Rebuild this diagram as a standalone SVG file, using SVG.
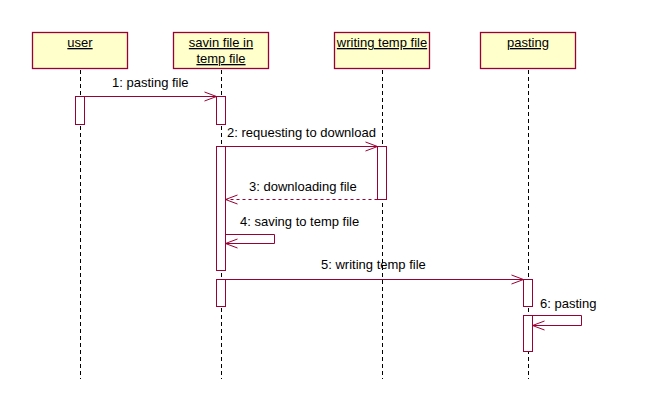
<svg xmlns="http://www.w3.org/2000/svg" width="671" height="420" viewBox="0 0 671 420">
<style>
text{font-family:"Liberation Sans",Arial,sans-serif;font-size:13px;fill:#000}
rect.box{fill:#FFFFCC;stroke:#990033;stroke-width:1.3}
.obj text{text-anchor:middle;text-decoration:underline}
.life{stroke:#000;stroke-width:1;stroke-dasharray:4,3;fill:none}
rect.act{fill:#fff;stroke:#990033;stroke-width:1}
.msg{stroke:#990033;stroke-width:1;fill:none}
.ret{stroke-dasharray:3,3}
</style>
<defs>
<marker id="open" viewBox="-13 -6 14 12" markerWidth="14" markerHeight="12" refX="0" refY="0" orient="auto" markerUnits="userSpaceOnUse">
<path d="M-12,-4.5 L0,0 L-12,4.5" fill="none" stroke="#990033" stroke-width="1" stroke-dasharray="none"/>
</marker>
</defs>
<rect width="671" height="420" fill="#fff"/>
<g id="user" class="obj">
<rect class="box" x="32.5" y="32.5" width="95" height="36"/>
<text x="80" y="47">user</text>
<line class="life" x1="80.5" y1="70" x2="80.5" y2="379"/>
<rect class="act" x="75.5" y="96.5" width="9" height="28"/>
</g>
<g id="savin" class="obj">
<rect class="box" x="173.5" y="32.5" width="95" height="36"/>
<text x="221" y="47">savin file in </text>
<text x="221" y="63">temp file</text>
<line class="life" x1="221.5" y1="70" x2="221.5" y2="379"/>
<rect class="act" x="216.5" y="96.5" width="9" height="28"/>
<rect class="act" x="216.5" y="146.5" width="9" height="124"/>
<rect class="act" x="216.5" y="279.5" width="9" height="27"/>
</g>
<g id="writing" class="obj">
<rect class="box" x="334.5" y="32.5" width="95" height="36"/>
<text x="382" y="47">writing temp file</text>
<line class="life" x1="382.5" y1="70" x2="382.5" y2="379"/>
<rect class="act" x="377.5" y="146.5" width="9" height="53"/>
</g>
<g id="pasting" class="obj">
<rect class="box" x="480.5" y="32.5" width="95" height="36"/>
<text x="528" y="47">pasting</text>
<line class="life" x1="528.5" y1="70" x2="528.5" y2="379"/>
<rect class="act" x="523.5" y="279.5" width="9" height="27"/>
<rect class="act" x="523.5" y="315.5" width="9" height="36"/>
</g>
<g id="connectors">
<line class="msg" x1="84.5" y1="96.5" x2="216.5" y2="96.5" marker-end="url(#open)"/>
<text x="112" y="87">1: pasting file</text>
<line class="msg" x1="225.5" y1="146.5" x2="377.5" y2="146.5" marker-end="url(#open)"/>
<text x="227" y="137">2: requesting to download</text>
<line class="msg ret" x1="377.5" y1="199.5" x2="225.5" y2="199.5" marker-end="url(#open)"/>
<text x="249" y="191">3: downloading file</text>
<path class="msg" d="M225.5,234.5 H274.5 V243.5 H225.5" marker-end="url(#open)"/>
<text x="240" y="226">4: saving to temp file</text>
<line class="msg" x1="225.5" y1="279.5" x2="523.5" y2="279.5" marker-end="url(#open)"/>
<text x="321" y="269">5: writing temp file</text>
<path class="msg" d="M532.5,315.5 H581.5 V325.5 H532.5" marker-end="url(#open)"/>
<text x="540" y="308">6: pasting</text>
</g>
</svg>
